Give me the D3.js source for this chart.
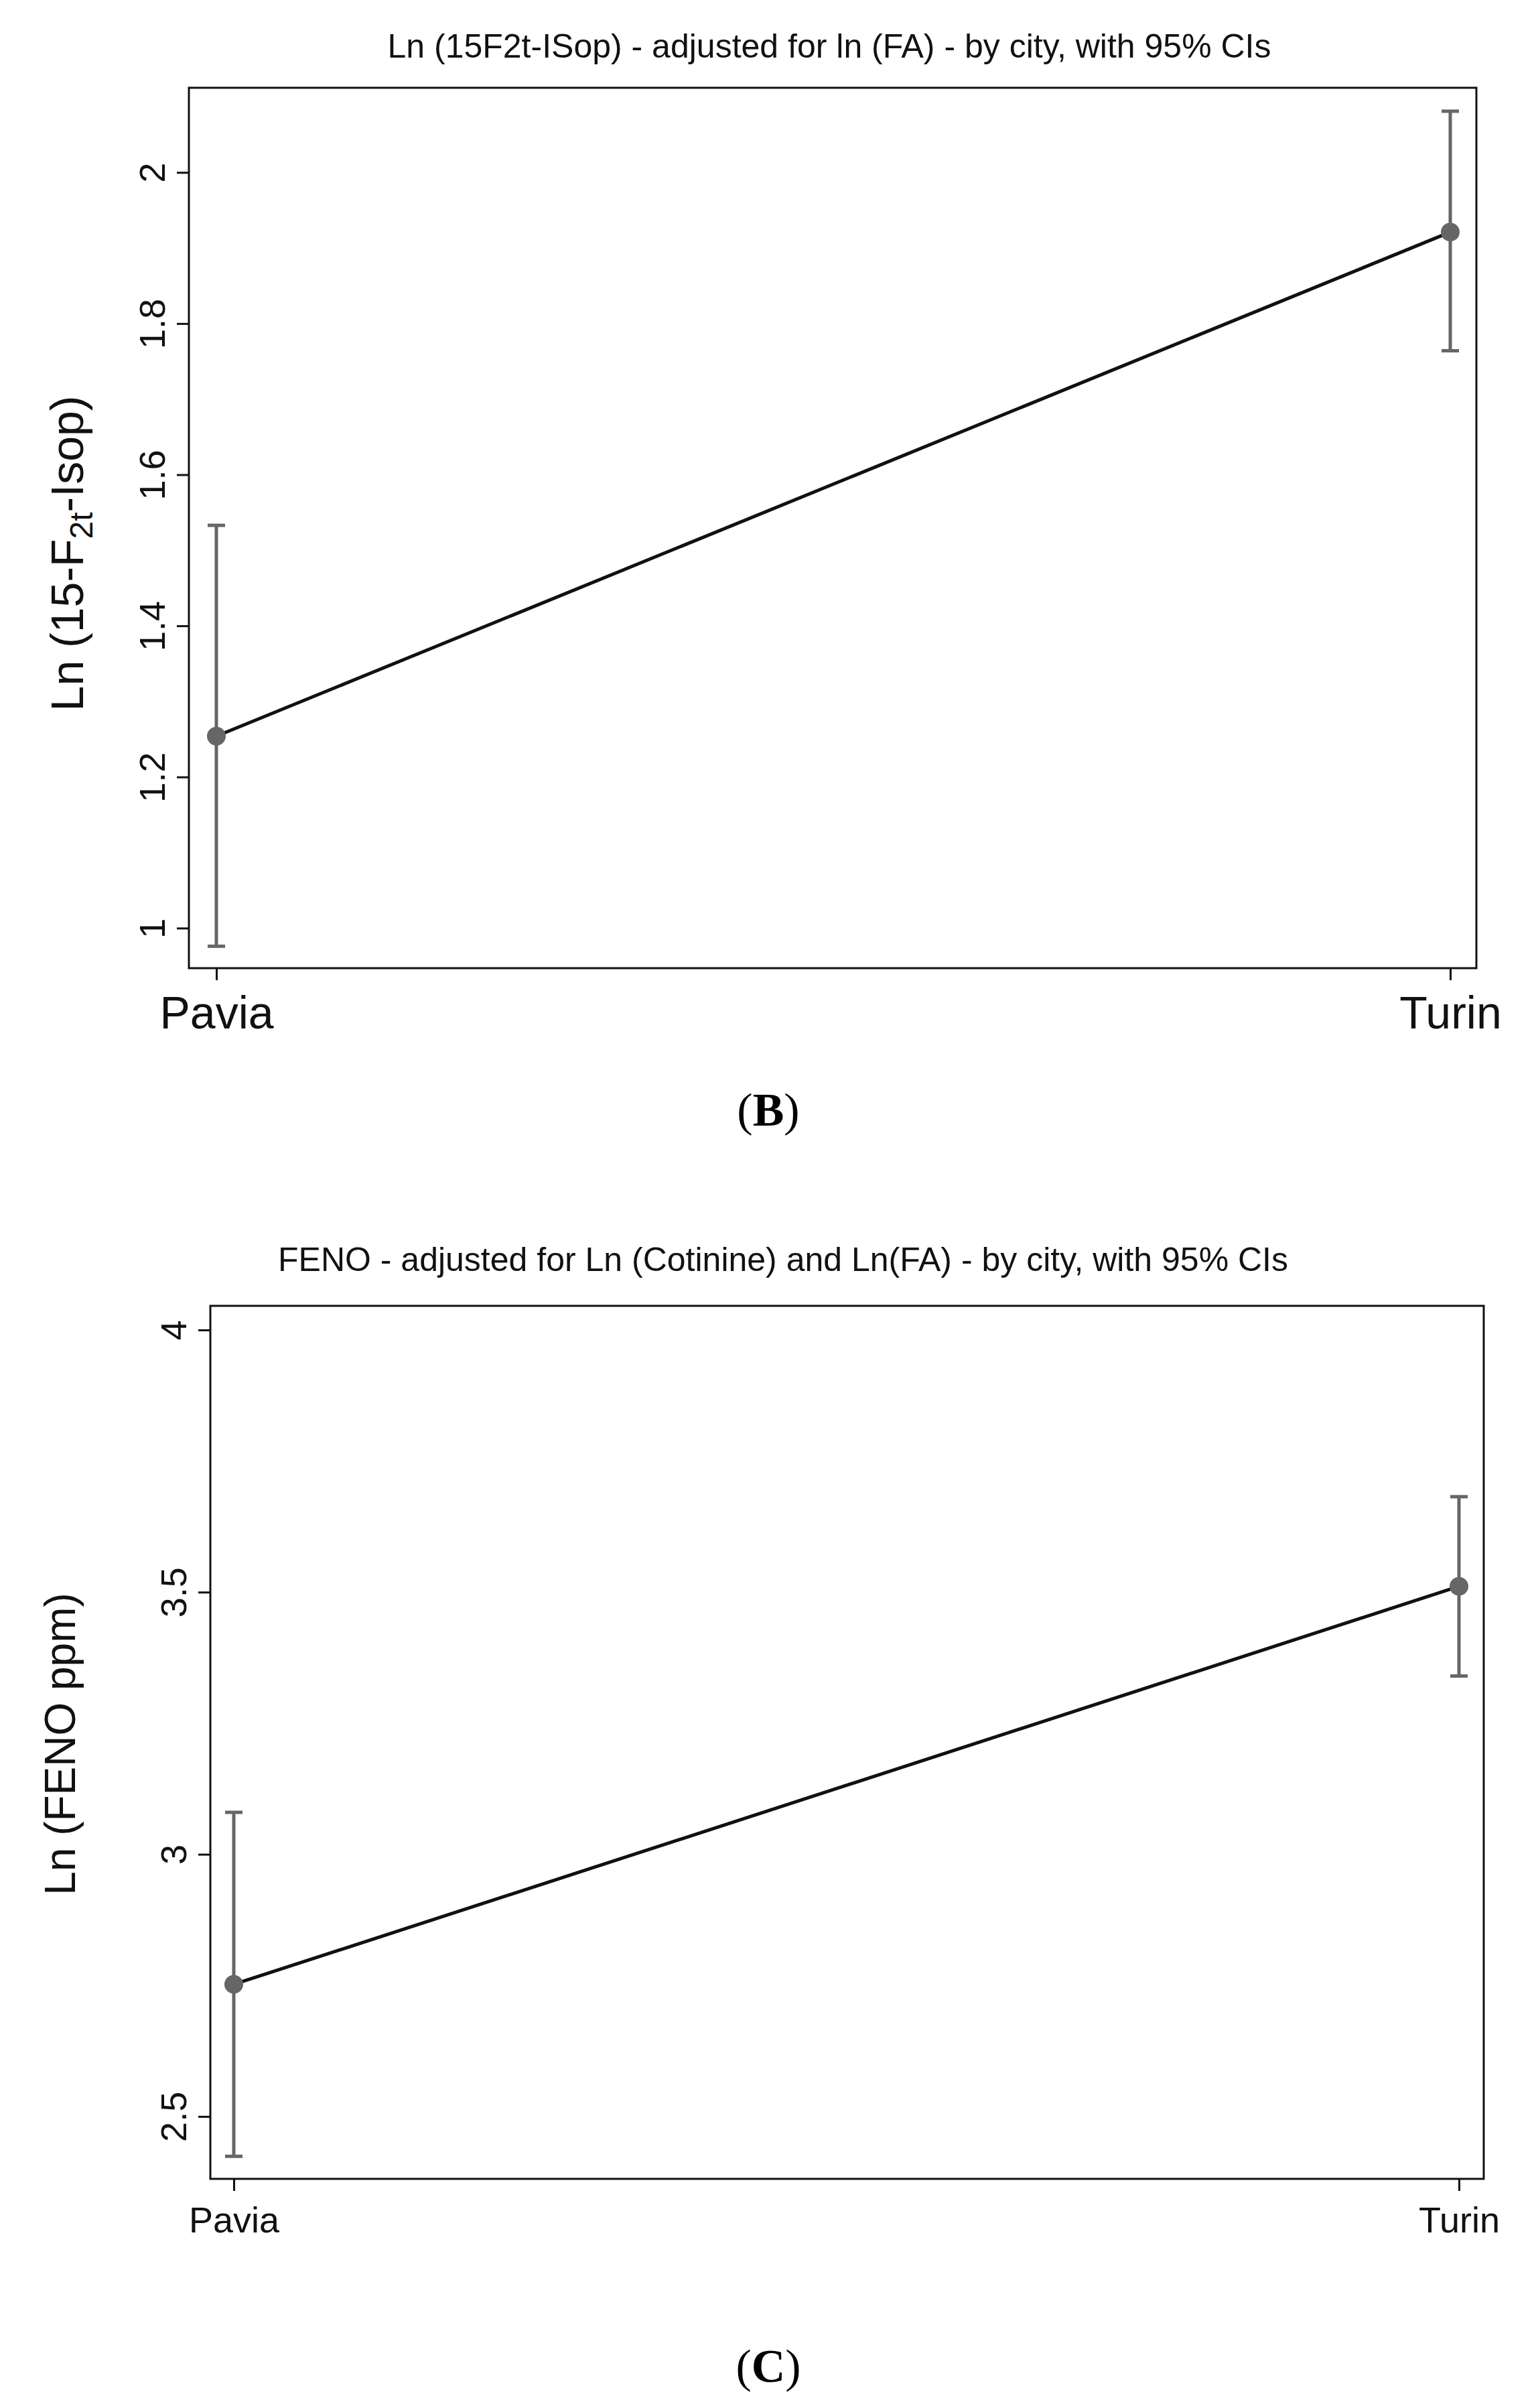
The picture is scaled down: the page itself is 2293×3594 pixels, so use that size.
<!DOCTYPE html>
<html>
<head>
<meta charset="utf-8">
<script src="https://cdn.jsdelivr.net/npm/d3@7"></script>
<style>
  body { margin: 0; background: #fff; }
  text { font-family: "Liberation Sans", Arial, sans-serif; }
</style>
</head>
<body>
<svg id="chart" width="2293" height="3594"></svg>
<script>
// data
var cities = ["Pavia", "Turin"];

// panel B: Ln(15-F2t-IsoP)
var isopMean = [1.254, 1.921];
var isopLow = [0.976, 1.764];
var isopHigh = [1.533, 2.081];
var isopTicks = [1, 1.2, 1.4, 1.6, 1.8, 2];

// panel C: Ln(FENO ppm)
var fenoMean = [2.752, 3.511];
var fenoLow = [2.424, 3.340];
var fenoHigh = [3.080, 3.682];
var fenoTicks = [2.5, 3, 3.5, 4];

var svg = d3.select("#chart");

function drawPanel(opts) {
  var g = svg.append("g");

  var x = d3.scalePoint().domain(cities).range([opts.px0, opts.px1]);
  var y = d3.scaleLinear().domain(opts.ydomain).range([opts.bottom, opts.top]);

  // frame
  g.append("rect")
    .attr("x", opts.left).attr("y", opts.top)
    .attr("width", opts.right - opts.left).attr("height", opts.bottom - opts.top)
    .attr("fill", "none").attr("stroke", "#111").attr("stroke-width", 3);

  // y axis
  var yAxis = g.append("g")
    .attr("transform", "translate(" + opts.left + ",0)")
    .call(d3.axisLeft(y).tickValues(opts.ticks).tickSize(18).tickFormat(d3.format("")));
  yAxis.select(".domain").remove();
  yAxis.selectAll("line").attr("stroke", "#111").attr("stroke-width", 3);
  yAxis.selectAll("text")
    .attr("font-size", opts.tickFont).attr("fill", "#111")
    .attr("x", -36).attr("y", 0).attr("dy", "0")
    .attr("transform", "rotate(-90,-36,0)")
    .attr("text-anchor", "middle");

  // x axis
  var xAxis = g.append("g")
    .attr("transform", "translate(0," + opts.bottom + ")")
    .call(d3.axisBottom(x).tickSize(18).tickPadding(24));
  xAxis.select(".domain").remove();
  xAxis.selectAll("line").attr("stroke", "#111").attr("stroke-width", 3);
  xAxis.selectAll("text").attr("font-size", opts.xFont).attr("fill", "#111");

  // connecting line
  var line = d3.line().x(function (d, i) { return x(cities[i]); }).y(function (d) { return y(d); });
  g.append("path").datum(opts.mean).attr("d", line)
    .attr("fill", "none").attr("stroke", "#111").attr("stroke-width", 5);

  // error bars
  var eb = g.selectAll(".eb").data(cities).enter().append("g");
  eb.append("line")
    .attr("x1", function (d) { return x(d); }).attr("x2", function (d) { return x(d); })
    .attr("y1", function (d, i) { return y(opts.low[i]); }).attr("y2", function (d, i) { return y(opts.high[i]); })
    .attr("stroke", "#666").attr("stroke-width", 5);
  [opts.low, opts.high].forEach(function (arr) {
    eb.append("line")
      .attr("x1", function (d) { return x(d) - 13; }).attr("x2", function (d) { return x(d) + 13; })
      .attr("y1", function (d, i) { return y(arr[i]); }).attr("y2", function (d, i) { return y(arr[i]); })
      .attr("stroke", "#666").attr("stroke-width", 5);
  });
  eb.append("circle")
    .attr("cx", function (d) { return x(d); })
    .attr("cy", function (d, i) { return y(opts.mean[i]); })
    .attr("r", 14).attr("fill", "#666");

  // title
  g.append("text").attr("x", opts.titleX).attr("y", opts.titleY)
    .attr("text-anchor", "middle").attr("font-size", opts.titleFont).attr("fill", "#111")
    .text(opts.title);

  // y label
  var yl = g.append("text")
    .attr("transform", "translate(" + opts.ylabX + "," + opts.ylabY + ") rotate(-90)")
    .attr("text-anchor", "middle").attr("font-size", opts.ylabFont).attr("fill", "#111");
  opts.ylab(yl);

  // panel letter
  var p = g.append("text").attr("x", 1147).attr("y", opts.letterY)
    .attr("text-anchor", "middle").attr("font-size", 70)
    .style("font-family", "'Liberation Serif', 'Times New Roman', serif");
  p.append("tspan").text("(");
  p.append("tspan").attr("font-weight", "bold").text(opts.letter);
  p.append("tspan").text(")");
}

drawPanel({
  left: 282, right: 2204, top: 131, bottom: 1445,
  px0: 323, px1: 2165,
  ydomain: [0.947, 2.112], ticks: isopTicks,
  mean: isopMean, low: isopLow, high: isopHigh,
  tickFont: 54, xFont: 68,
  title: "Ln (15F2t-ISop) - adjusted for ln (FA) - by city, with 95% CIs",
  titleX: 1238, titleY: 86, titleFont: 50,
  ylabX: 124, ylabY: 826, ylabFont: 68,
  ylab: function (t) {
    t.append("tspan").text("Ln (15-F");
    t.append("tspan").attr("font-size", 48).attr("dy", 14).text("2t");
    t.append("tspan").attr("dy", -14).text("-Isop)");
  },
  letter: "B", letterY: 1680
});

drawPanel({
  left: 314, right: 2215, top: 1949, bottom: 3252,
  px0: 349, px1: 2178,
  ydomain: [2.381, 4.046], ticks: fenoTicks,
  mean: fenoMean, low: fenoLow, high: fenoHigh,
  tickFont: 54, xFont: 54,
  title: "FENO - adjusted for Ln (Cotinine) and Ln(FA) - by city, with 95% CIs",
  titleX: 1169, titleY: 1897, titleFont: 50,
  ylabX: 112, ylabY: 2603, ylabFont: 64,
  ylab: function (t) { t.text("Ln (FENO ppm)"); },
  letter: "C", letterY: 3555
});
</script>
</body>
</html>
